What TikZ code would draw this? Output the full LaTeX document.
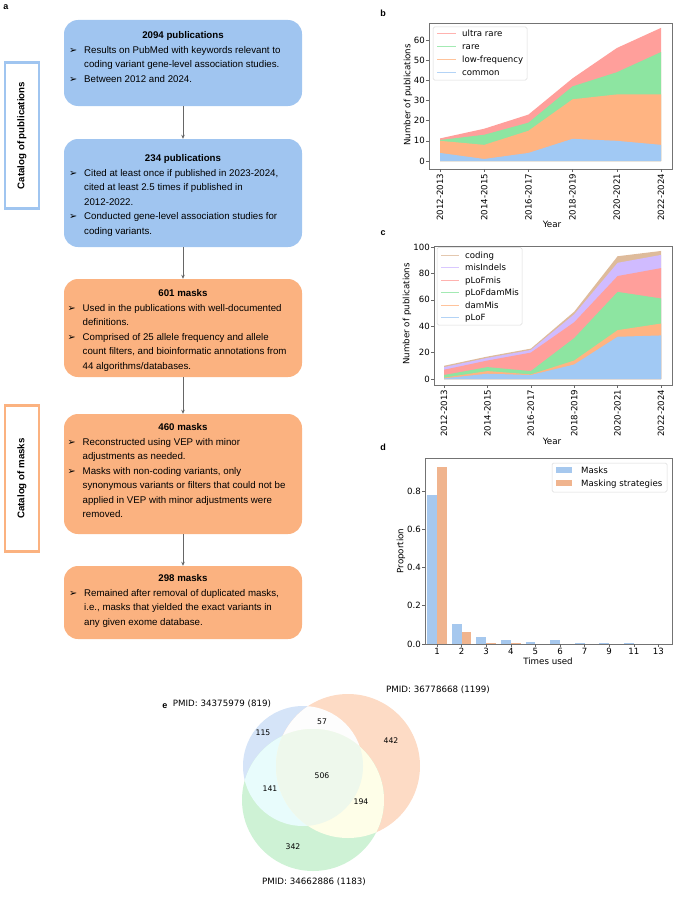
\documentclass[tikz,border=0pt]{standalone}
\usepackage{fontspec}
\setmainfont{Liberation Sans}
\newfontfamily\plotfont{DejaVu Sans}
\usetikzlibrary{arrows.meta}

\definecolor{boxblue}{HTML}{A0C5F0}
\definecolor{boxorange}{HTML}{FBB280}
\definecolor{pblue}{HTML}{A1C9F4}
\definecolor{porange}{HTML}{FFB482}
\definecolor{pgreen}{HTML}{8DE5A1}
\definecolor{pred}{HTML}{FF9F9B}
\definecolor{ppurple}{HTML}{D0BBFF}
\definecolor{pbrown}{HTML}{DEBB9B}
\definecolor{dblue}{HTML}{A6C8EE}
\definecolor{dorange}{HTML}{F0B48E}
\definecolor{vblue}{HTML}{D5E4F8}
\definecolor{vorange}{HTML}{FDDBC5}
\definecolor{vgreen}{HTML}{CEF2D5}
\definecolor{vbo}{HTML}{FDFDFD}
\definecolor{vbg}{HTML}{E8FCFC}
\definecolor{vog}{HTML}{FEFEE8}
\definecolor{vall}{HTML}{EEF8EC}

\newcommand{\itemmark}{{\plotfont ➢}}

\tikzset{
  flowbox/.style={rounded corners=14pt, minimum width=238pt, inner sep=0pt},
  flowhead/.style={anchor=base, inner sep=0pt, font=\fontsize{9.7}{14.5}\selectfont\bfseries},
  flowtext/.style={anchor=north west, inner sep=0pt, font=\fontsize{9.7}{14.5}\selectfont},
  flowarrow/.style={draw=black!60, line width=0.8pt, -{Stealth[length=4pt,width=3.5pt]}},
  catalog/.style={line width=2.5pt, minimum width=146pt, minimum height=34pt, inner sep=0pt,
    font=\fontsize{9.7}{11}\selectfont\bfseries},
  panel/.style={inner sep=0pt, font=\fontsize{9}{10}\selectfont\bfseries},
  spine/.style={draw=black!55, line width=0.6pt},
  tickmark/.style={draw=black!60, line width=0.6pt},
  ticklabel/.style={inner sep=0pt, font=\plotfont\fontsize{8.6}{10}\selectfont},
  axislabel/.style={inner sep=0pt, font=\plotfont\fontsize{8.7}{10}\selectfont},
  legendbox/.style={draw=black!15, fill=white, rounded corners=1.5pt, line width=0.5pt},
  legendline/.style={line width=0.4pt, opacity=0.8},
  vennlabel/.style={inner sep=0pt, font=\plotfont\fontsize{8.7}{10}\selectfont},
  vennnum/.style={inner sep=0pt, font=\plotfont\fontsize{7.7}{9}\selectfont}
}

\begin{document}
\begin{tikzpicture}[x=1pt, y=-1pt]
\useasboundingbox (0,0) rectangle (676,899);

% a: flow of the two catalogs
\node[panel] (lbla) at (6,7) {a};

\node[flowbox, fill=boxblue, minimum height=86pt] (pub1) at (183,63) {};
\node[flowbox, fill=boxblue, minimum height=108pt] (pub2) at (183,193) {};
\node[flowbox, fill=boxorange, minimum height=98pt] (msk1) at (183,328) {};
\node[flowbox, fill=boxorange, minimum height=120pt] (msk2) at (183,474) {};
\node[flowbox, fill=boxorange, minimum height=73pt] (msk3) at (183,602.5) {};

\draw[flowarrow] (pub1) -- (pub2);
\draw[flowarrow] (pub2) -- (msk1);
\draw[flowarrow] (msk1) -- (msk2);
\draw[flowarrow] (msk2) -- (msk3);

\node[flowhead] (pub1head) at (183,38.5) {2094 publications};
\node[flowtext] (pub1text) at (69,42.85) {\begin{tabular}{@{}p{15pt}@{}l@{}}
\itemmark & Results on PubMed with keywords relevant to\\
 & coding variant gene-level association studies.\\
\itemmark & Between 2012 and 2024.
\end{tabular}};

\node[flowhead] (pub2head) at (183,161.5) {234 publications};
\node[flowtext] (pub2text) at (69,165.85) {\begin{tabular}{@{}p{15pt}@{}l@{}}
\itemmark & Cited at least once if published in 2023-2024,\\
 & cited at least 2.5 times if published in\\
 & 2012-2022.\\
\itemmark & Conducted gene-level association studies for\\
 & coding variants.
\end{tabular}};

\node[flowhead] (msk1head) at (183,296.5) {601 masks};
\node[flowtext] (msk1text) at (67.5,300.85) {\begin{tabular}{@{}p{15pt}@{}l@{}}
\itemmark & Used in the publications with well-documented\\
 & definitions.\\
\itemmark & Comprised of 25 allele frequency and allele\\
 & count filters, and bioinformatic annotations from\\
 & 44 algorithms/databases.
\end{tabular}};

\node[flowhead] (msk2head) at (183,430.5) {460 masks};
\node[flowtext] (msk2text) at (67.5,434.85) {\begin{tabular}{@{}p{15pt}@{}l@{}}
\itemmark & Reconstructed using VEP with minor\\
 & adjustments as needed.\\
\itemmark & Masks with non-coding variants, only\\
 & synonymous variants or filters that could not be\\
 & applied in VEP with minor adjustments were\\
 & removed.
\end{tabular}};

\node[flowhead] (msk3head) at (183,581.5) {298 masks};
\node[flowtext] (msk3text) at (69,585.85) {\begin{tabular}{@{}p{15pt}@{}l@{}}
\itemmark & Remained after removal of duplicated masks,\\
 & i.e., masks that yielded the exact variants in\\
 & any given exome database.
\end{tabular}};

\node[catalog, draw=boxblue, rotate=90] (pubcat) at (22,135.5) {Catalog of publications};
\node[catalog, draw=boxorange, rotate=90] (mskcat) at (22,478.5) {Catalog of masks};

% b: frequency filters per period
\node[panel] (lblb) at (383,13) {b};
\begin{scope}[shift={(440,161)}, x=44.2pt, y=2.017pt]
  \fill[pred] (0,0) -- plot coordinates {(0,11.2) (1,16) (2,23) (3,41) (4,56) (5,66)} -- (5,0) -- cycle;
  \fill[pgreen] (0,0) -- plot coordinates {(0,10.4) (1,13) (2,19) (3,37) (4,44) (5,54)} -- (5,0) -- cycle;
  \fill[porange] (0,0) -- plot coordinates {(0,10) (1,8) (2,15) (3,30.6) (4,33) (5,33)} -- (5,0) -- cycle;
  \fill[pblue] (0,0) -- plot coordinates {(0,4) (1,1) (2,4) (3,11) (4,10) (5,8)} -- (5,0) -- cycle;
\end{scope}
\draw[spine] (429,23) rectangle (672,169);
\foreach \v in {0,10,...,60}
{
  \draw[tickmark] (429,{161-2.017*\v}) -- (426,{161-2.017*\v});
  \node[ticklabel, anchor=east] (by\v) at (425,{161-2.017*\v}) {\v};
}
\foreach \yr [count=\i from 0] in {2012-2013,2014-2015,2016-2017,2018-2019,2020-2021,2022-2024}
{
  \draw[tickmark] ({440+44.2*\i},169) -- ({440+44.2*\i},172);
  \node[ticklabel, rotate=90, anchor=east] (bx\i) at ({440+44.2*\i},173.5) {\yr};
}
\node[axislabel, rotate=90] (bylab) at (408,95) {Number of publications};
\node[axislabel] (bxlab) at (552,224) {Year};
\draw[legendbox] (433,27) rectangle (527,80);
\foreach \col/\txt [count=\k from 0] in {pred/ultra rare, pgreen/rare, porange/low-frequency, pblue/common}
{
  \draw[legendline, draw=\col] (437,{33+13*\k}) -- (456,{33+13*\k});
  \node[ticklabel, anchor=base west] (bleg\k) at (462,{36.2+13*\k}) {\txt};
}

% c: mask types per period
\node[panel] (lblc) at (383,233) {c};
\begin{scope}[shift={(444,379)}, x=43.4pt, y=1.32pt]
  \fill[pbrown] (0,0) -- plot coordinates {(0,10) (1,17) (2,23) (3,51) (4,93) (5,97)} -- (5,0) -- cycle;
  \fill[ppurple] (0,0) -- plot coordinates {(0,9) (1,16) (2,22) (3,49) (4,88) (5,94)} -- (5,0) -- cycle;
  \fill[pred] (0,0) -- plot coordinates {(0,7) (1,14) (2,20) (3,43) (4,78) (5,84)} -- (5,0) -- cycle;
  \fill[pgreen] (0,0) -- plot coordinates {(0,3) (1,9) (2,6) (3,31) (4,66) (5,61)} -- (5,0) -- cycle;
  \fill[porange] (0,0) -- plot coordinates {(0,1) (1,6) (2,3.5) (3,14) (4,37) (5,42)} -- (5,0) -- cycle;
  \fill[pblue] (0,0) -- plot coordinates {(0,0.5) (1,4) (2,3) (3,11) (4,32) (5,33)} -- (5,0) -- cycle;
\end{scope}
\draw[spine] (434,246) rectangle (672,385);
\foreach \v in {0,20,...,100}
{
  \draw[tickmark] (434,{379-1.32*\v}) -- (431,{379-1.32*\v});
  \node[ticklabel, anchor=east] (cy\v) at (430,{379-1.32*\v}) {\v};
}
\foreach \yr [count=\i from 0] in {2012-2013,2014-2015,2016-2017,2018-2019,2020-2021,2022-2024}
{
  \draw[tickmark] ({444+43.4*\i},385) -- ({444+43.4*\i},388);
  \node[ticklabel, rotate=90, anchor=east] (cx\i) at ({444+43.4*\i},389.5) {\yr};
}
\node[axislabel, rotate=90] (cylab) at (407,314) {Number of publications};
\node[axislabel] (cxlab) at (552,441) {Year};
\draw[legendbox] (437,247.5) rectangle (522,325);
\foreach \col/\txt [count=\k from 0] in {pbrown/coding, ppurple/misIndels, pred/pLoFmis, pgreen/pLoFdamMis, porange/damMis, pblue/pLoF}
{
  \draw[legendline, draw=\col] (441,{255+12.5*\k}) -- (459,{255+12.5*\k});
  \node[ticklabel, anchor=base west] (cleg\k) at (465,{258.2+12.5*\k}) {\txt};
}

% d: how often masks are reused
\node[panel] (lbld) at (383,447) {d};
\foreach \m/\s [count=\k from 0] in {0.78/0.925, 0.105/0.065, 0.035/0.007, 0.022/0.007, 0.012/0, 0.022/0, 0.003/0, 0.003/0, 0.003/0, 0.002/0}
{
  \fill[dblue] ({437+24.6*\k-9.8},644) rectangle ({437+24.6*\k},{644-191.25*\m});
  \fill[dorange] ({437+24.6*\k},644) rectangle ({437+24.6*\k+9.8},{644-191.25*\s});
}
\draw[spine] (425,458) rectangle (672,644);
\foreach \p in {0.0,0.2,0.4,0.6,0.8}
{
  \draw[tickmark] (425,{644-191.25*\p}) -- (422,{644-191.25*\p});
  \node[ticklabel, anchor=east] at (421,{644-191.25*\p}) {\p};
}
\foreach \t [count=\k from 0] in {1,2,3,4,5,6,7,9,11,13}
{
  \draw[tickmark] ({437+24.6*\k},644) -- ({437+24.6*\k},647);
  \node[ticklabel, anchor=north] (dx\k) at ({437+24.6*\k},648) {\t};
}
\node[axislabel, rotate=90] (dylab) at (401,551) {Proportion};
\node[axislabel] (dxlab) at (548,661) {Times used};
\draw[legendbox] (552,463) rectangle (667,492);
\fill[dblue] (556,467) rectangle (572,473);
\node[ticklabel, anchor=base west] (dleg1) at (581,473.2) {Masks};
\fill[dorange] (556,480) rectangle (572,486);
\node[ticklabel, anchor=base west] (dleg2) at (581,486.2) {Masking strategies};

% e: overlap of three mask catalogs
\node[panel] (lble) at (165,706) {e};
\fill[vblue] (303,766) circle[radius=60pt];
\fill[vorange] (348,766) circle[radius=72pt];
\fill[vgreen] (313,800) circle[radius=71pt];
\begin{scope}
  \clip (303,766) circle[radius=60pt];
  \fill[vbo] (348,766) circle[radius=72pt];
\end{scope}
\begin{scope}
  \clip (303,766) circle[radius=60pt];
  \fill[vbg] (313,800) circle[radius=71pt];
\end{scope}
\begin{scope}
  \clip (348,766) circle[radius=72pt];
  \fill[vog] (313,800) circle[radius=71pt];
\end{scope}
\begin{scope}
  \clip (303,766) circle[radius=60pt];
  \clip (348,766) circle[radius=72pt];
  \fill[vall] (313,800) circle[radius=71pt];
\end{scope}
\node[vennlabel] (setA) at (222,704) {PMID: 34375979 (819)};
\node[vennlabel] (setB) at (438,690) {PMID: 36778668 (1199)};
\node[vennlabel] (setC) at (314,882) {PMID: 34662886 (1183)};
\node[vennnum] (nA) at (263,733) {115};
\node[vennnum] (nAB) at (322,722) {57};
\node[vennnum] (nB) at (391,741) {442};
\node[vennnum] (nABC) at (322,776) {506};
\node[vennnum] (nAC) at (270,789) {141};
\node[vennnum] (nBC) at (361,802) {194};
\node[vennnum] (nC) at (293,847) {342};
\end{tikzpicture}
\end{document}
